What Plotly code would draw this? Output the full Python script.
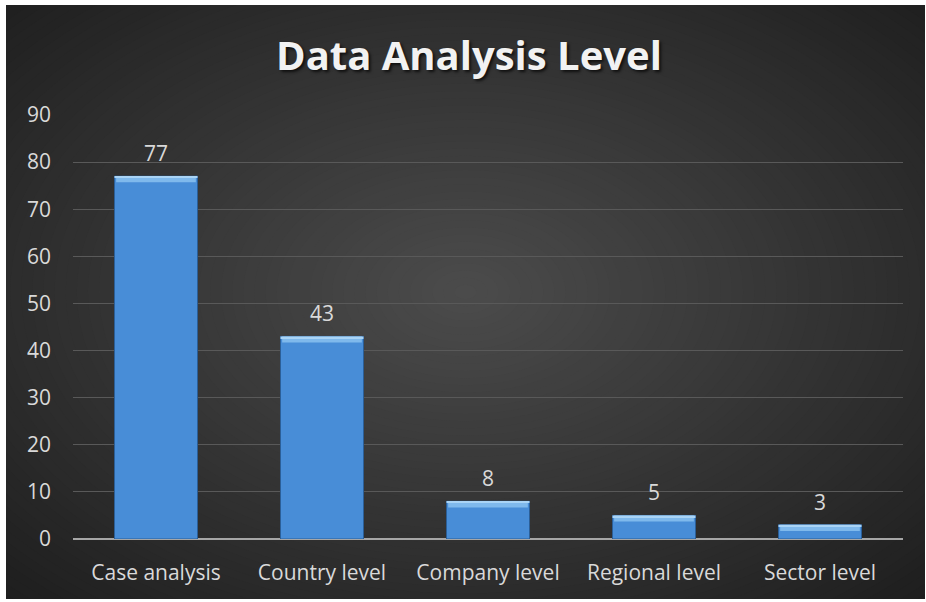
import plotly.graph_objects as go

# Chart data
categories = ["Case analysis", "Country level", "Company level", "Regional level", "Sector level"]
counts = [77, 43, 8, 5, 3]
y_ticks = [0, 10, 20, 30, 40, 50, 60, 70, 80, 90]

W, H = 926, 602
ML, MR, MT, MB = 73, 23, 115, 63
PW, PH = W - ML - MR, H - MT - MB


def px_x(px):
    return (px - ML) / PW


def px_y(py):
    return (H - MB - py) / PH


def mix(c1, c2, t):
    return "#%02x%02x%02x" % tuple(round(a + (b - a) * t) for a, b in zip(c1, c2))


shapes = []

# Dark card with radial shading (concentric ellipses, outside in)
fx0, fx1, fy0, fy1 = 6, 925, 5, 599
cxp, cyp = (fx0 + fx1) / 2, (fy0 + fy1) / 2 - 10
hw, hh = (fx1 - fx0) / 2 * 1.45, (fy1 - fy0) / 2 * 1.45
edge, center = (0x1e, 0x1e, 0x1e), (0x4c, 0x4c, 0x4c)
N = 60
shapes.append(dict(type="rect", xref="paper", yref="paper", layer="below",
                   x0=px_x(fx0), x1=px_x(fx1), y0=px_y(fy1), y1=px_y(fy0),
                   line=dict(width=0), fillcolor=mix(edge, center, 0)))
for i in range(N):
    t = 1 - i / N
    shapes.append(dict(type="circle", xref="paper", yref="paper", layer="below",
                       x0=px_x(cxp - hw * t), x1=px_x(cxp + hw * t),
                       y0=px_y(cyp + hh * t), y1=px_y(cyp - hh * t),
                       line=dict(width=0), fillcolor=mix(edge, center, 1 - t)))

# White frame around the card
for (a, b, c, d) in [(0, W, 0, fy0), (0, W, fy1, H), (0, fx0, 0, H), (fx1, W, 0, H)]:
    shapes.append(dict(type="rect", xref="paper", yref="paper", layer="below",
                       x0=px_x(a), x1=px_x(b), y0=px_y(d), y1=px_y(c),
                       line=dict(width=0), fillcolor="white"))

bevel = 1.3
shine = 0.35

fig = go.Figure()
fig.add_trace(go.Bar(
    x=categories, y=counts, width=0.5,
    marker=dict(color="#488dd7", line=dict(color="#2b5f98", width=1)),
    hoverinfo="x+y",
))
# Lighter bevel strip along each bar's top
fig.add_trace(go.Bar(
    x=categories, y=[bevel] * len(counts), base=[v - bevel for v in counts], width=0.48,
    marker=dict(color="#7fb9ec", line=dict(width=0)),
    hoverinfo="skip",
))
fig.add_trace(go.Bar(
    x=categories, y=[shine] * len(counts), base=[v - shine for v in counts], width=0.5,
    marker=dict(color="#a9d4f6", line=dict(width=0)),
    hoverinfo="skip",
))

annotations = [
    dict(x=c, y=v, xref="x", yref="y", text=str(v), showarrow=False,
         yshift=23, font=dict(family="Open Sans", size=21, color="#d9d9d9"))
    for c, v in zip(categories, counts)
]

fig.update_layout(
    width=W, height=H, autosize=False,
    margin=dict(l=ML, r=MR, t=MT, b=MB),
    paper_bgcolor="white",
    plot_bgcolor="rgba(0,0,0,0)",
    barmode="overlay",
    showlegend=False,
    shapes=shapes,
    annotations=annotations,
    title=dict(
        text="<b>Data Analysis Level</b>",
        x=469 / W, xref="container", xanchor="center",
        y=1 - 56 / H, yref="container", yanchor="middle",
        font=dict(family="Open Sans", size=40, color="#f2f2f2",
                  shadow="2px 2px 3px rgba(0,0,0,0.7)"),
    ),
    xaxis=dict(
        showgrid=False, zeroline=False, showline=False,
        tickfont=dict(family="Open Sans", size=21, color="#d9d9d9"),
        ticklabelstandoff=19,
    ),
    yaxis=dict(
        range=[0, 90], tickvals=y_ticks,
        showgrid=True, gridcolor="#595959", gridwidth=1,
        zeroline=True, zerolinecolor="#a6a6a6", zerolinewidth=2,
        showline=False,
        tickfont=dict(family="Open Sans", size=21, color="#d9d9d9"),
        ticklabelstandoff=21,
    ),
)

fig.write_html("out.html")
